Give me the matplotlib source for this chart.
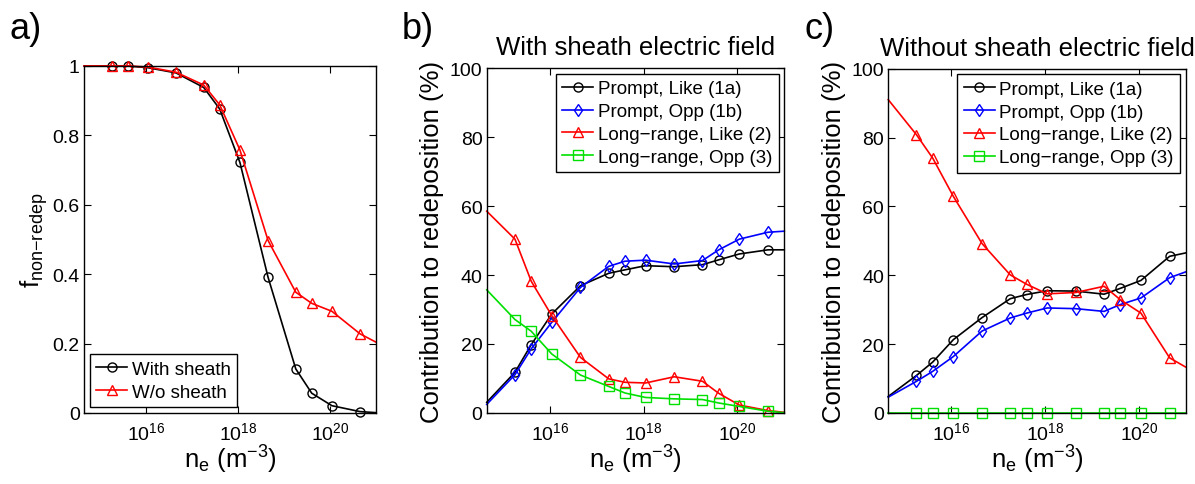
import matplotlib
matplotlib.use('Agg')
import matplotlib.pyplot as plt
from matplotlib.ticker import NullLocator, FixedLocator

plt.rcParams['font.family'] = ['Liberation Sans', 'DejaVu Sans']
plt.rcParams['mathtext.fontset'] = 'custom'
plt.rcParams['mathtext.rm'] = 'Liberation Sans'
plt.rcParams['mathtext.it'] = 'Liberation Sans:italic'
plt.rcParams['mathtext.default'] = 'regular'

# electron density (first and last entries sit on the axis limits)
ne = [4.5e14, 1.8e15, 4e15, 1.1e16, 4.5e16, 1.8e17, 4e17, 1.1e18,
      4.5e18, 1.8e19, 4e19, 1.1e20, 4.5e20, 1e21]

# a) non-redeposited fraction
f_with = [1.0, 1.0, 1.0, 0.995, 0.98, 0.938, 0.876, 0.722, 0.391, 0.127, 0.057, 0.021, 0.004, 0.001]
f_wo = [1.0, 1.0, 1.0, 0.997, 0.982, 0.945, 0.888, 0.758, 0.497, 0.348, 0.316, 0.293, 0.228, 0.204]

# b) with sheath electric field
b_like1a = [3.1, 11.8, 19.8, 28.7, 36.9, 40.5, 41.5, 42.7, 42.4, 43.0, 44.4, 46.1, 47.3, 47.3]
b_opp1b = [2.5, 11.1, 18.6, 26.3, 36.4, 42.5, 44.0, 44.3, 43.2, 44.2, 47.3, 50.4, 52.4, 52.7]
b_like2 = [58.5, 50.4, 38.2, 28.2, 16.1, 9.9, 8.9, 8.7, 10.5, 9.2, 5.7, 2.3, 0.7, 0.2]
b_opp3 = [35.7, 27.1, 23.7, 17.1, 11.0, 7.7, 5.8, 4.5, 4.1, 3.9, 2.9, 1.9, 0.5, 0.1]

# c) without sheath electric field
c_like1a = [4.8, 10.9, 14.8, 21.3, 27.7, 33.2, 34.4, 35.5, 35.4, 34.5, 36.2, 38.5, 45.5, 46.5]
c_opp1b = [4.6, 9.2, 12.1, 16.4, 23.8, 27.6, 29.0, 30.5, 30.3, 29.5, 31.5, 33.4, 39.3, 41.0]
c_like2 = [91.0, 80.8, 74.0, 62.9, 49.2, 40.1, 37.4, 34.6, 35.0, 36.8, 32.9, 29.0, 16.0, 13.3]
c_opp3 = [0, 0, 0, 0, 0, 0, 0, 0, 0, 0, 0, 0, 0, 0]

labels4 = ['Prompt, Like (1a)', 'Prompt, Opp (1b)', 'Long\u2212range, Like (2)', 'Long\u2212range, Opp (3)']

fig = plt.figure(figsize=(11.95, 4.85), dpi=100)
ax_a = fig.add_axes([0.0703, 0.1464, 0.2444, 0.7155])
ax_b = fig.add_axes([0.4073, 0.1464, 0.2490, 0.7113])
ax_c = fig.add_axes([0.7433, 0.1464, 0.2491, 0.7100])

mk = list(range(1, 13))
kw = dict(lw=1.2, mfc='none', markersize=6.5, markevery=mk, mew=1.0, clip_on=False)
leg_kw = dict(fontsize=13.5, fancybox=False, edgecolor='k', framealpha=1, borderaxespad=0.3,
              handlelength=1.65, handletextpad=0.25, borderpad=0.35, labelspacing=0.3)


def style(ax):
    ax.set_xscale('log')
    ax.set_xlim(ne[0], ne[-1])
    ax.xaxis.set_major_locator(FixedLocator([1e16, 1e18, 1e20]))
    ax.xaxis.set_minor_locator(NullLocator())
    ax.tick_params(direction='in', top=True, right=True, labelsize=14, length=5, width=0.8)
    ax.tick_params(axis='x', pad=6)
    ax.tick_params(axis='y', pad=3)
    for s in ax.spines.values():
        s.set_linewidth(1.0)
        s.set_zorder(5)
    ax.set_xlabel(r'n$_e$ (m$^{-3}$)', fontsize=18.5, labelpad=0)


ax_a.plot(ne, f_with, 'k-o', label='With sheath', **kw)
ax_a.plot(ne, f_wo, '-^', color='#ff0000', label='W/o sheath', **kw)
style(ax_a)
ax_a.set_ylim(0, 1)
ax_a.set_yticks([0, 0.2, 0.4, 0.6, 0.8, 1])
ax_a.set_yticklabels(['0', '0.2', '0.4', '0.6', '0.8', '1'])
ax_a.set_ylabel('f$_{non{-}redep}$', fontsize=18.5, labelpad=2)
ax_a.legend(loc='lower left', **leg_kw)

for ax, d, title in [(ax_b, (b_like1a, b_opp1b, b_like2, b_opp3), 'With sheath electric field'),
                     (ax_c, (c_like1a, c_opp1b, c_like2, c_opp3), 'Without sheath electric field')]:
    ax.plot(ne, d[0], 'k-o', label=labels4[0], **kw)
    ax.plot(ne, d[1], '-d', color='#0000ff', label=labels4[1], **kw)
    ax.plot(ne, d[2], '-^', color='#ff0000', label=labels4[2], **kw)
    ax.plot(ne, d[3], '-s', color='#00e000', label=labels4[3], **kw)
    style(ax)
    ax.set_ylim(0, 100)
    ax.set_yticks([0, 20, 40, 60, 80, 100])
    ax.set_ylabel('Contribution to redeposition (%)', fontsize=18.5, labelpad=4)
    ax.set_title(title, fontsize=18.5, pad=10)
    ax.legend(loc='upper right', **leg_kw)

fig.text(0.008, 0.92, 'a)', fontsize=26)
fig.text(0.336, 0.92, 'b)', fontsize=26)
fig.text(0.673, 0.92, 'c)', fontsize=26)

fig.savefig('out.png', dpi=100)
